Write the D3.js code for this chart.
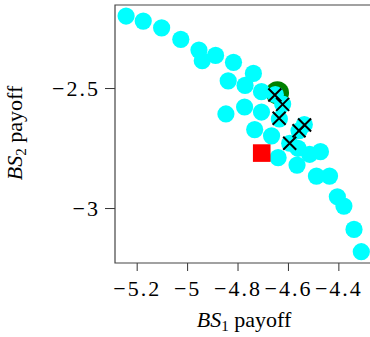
<!DOCTYPE html>
<html>
<head>
<meta charset="utf-8">
<script src="https://cdn.jsdelivr.net/npm/d3@7"></script>
<style>
  body { margin: 0; background: #fff; }
  svg { display: block; }
</style>
</head>
<body>
<svg id="chart" width="370" height="337"></svg>
<script>
// all solutions found
var solX = [-5.242, -5.174, -5.101, -5.025, -4.953, -4.940, -4.887, -4.816, -4.737, -4.837,
            -4.770, -4.705, -4.650, -4.621, -4.846, -4.772, -4.705, -4.634, -4.535, -4.732,
            -4.665, -4.556, -4.593, -4.560, -4.514, -4.471, -4.639, -4.564, -4.487, -4.435,
            -4.404, -4.378, -4.338, -4.309];
var solY = [-2.200, -2.221, -2.249, -2.297, -2.342, -2.386, -2.364, -2.393, -2.439, -2.470,
            -2.489, -2.515, -2.527, -2.567, -2.608, -2.579, -2.600, -2.629, -2.652, -2.673,
            -2.699, -2.678, -2.730, -2.751, -2.776, -2.765, -2.790, -2.821, -2.867, -2.867,
            -2.953, -2.992, -3.089, -3.182];
// pareto points
var parX = [-4.652, -4.621, -4.635, -4.534, -4.556, -4.593];
var parY = [-2.529, -2.568, -2.626, -2.654, -2.678, -2.730];
// chosen point and baseline
var bestPt = [-4.642, -2.520];
var basePt = [-4.704, -2.771];

var xTicks = [-5.2, -5, -4.8, -4.6, -4.4];
var yTicks = [-2.5, -3];

var serif = "Liberation Serif";
var svg = d3.select("#chart");
var x = d3.scaleLinear().domain([-5.286, -4.2745]).range([115, 370]);
var y = d3.scaleLinear().domain([-3.229, -2.154]).range([263, 5]);
var fmt = d3.format("~g");

function styleTicks(g) {
    g.attr("font-family", serif).attr("font-size", 22);
    g.select(".domain").remove();
    g.selectAll(".tick line").attr("stroke", "#333");
    g.selectAll(".tick text")
        .attr("font-family", serif)
        .attr("letter-spacing", 2)
        .attr("fill", "#000");
}

var gx = svg.append("g")
    .attr("transform", "translate(0,263)")
    .call(d3.axisBottom(x).tickValues(xTicks).tickSize(8).tickPadding(5).tickFormat(fmt))
    .call(styleTicks);
gx.selectAll(".tick text").attr("dy", "0.92em");

var gy = svg.append("g")
    .attr("transform", "translate(115,0)")
    .call(d3.axisLeft(y).tickValues(yTicks).tickSize(10).tickPadding(5).tickFormat(fmt))
    .call(styleTicks);

// frame (right side runs off the picture)
svg.append("path")
    .attr("d", "M375,5H115V263H375")
    .attr("fill", "none")
    .attr("stroke", "#444")
    .attr("stroke-width", 1.2);

var plot = svg.append("g");

plot.append("circle")
    .attr("cx", x(bestPt[0])).attr("cy", y(bestPt[1]))
    .attr("r", 11.7)
    .attr("fill", "green");

plot.selectAll(".sol")
    .data(solX)
    .enter().append("circle")
    .attr("class", "sol")
    .attr("cx", function (d) { return x(d); })
    .attr("cy", function (d, i) { return y(solY[i]); })
    .attr("r", 8.6)
    .attr("fill", "cyan");

plot.selectAll(".par")
    .data(parX)
    .enter().append("path")
    .attr("class", "par")
    .attr("d", function (d, i) {
        var cx = x(d), cy = y(parY[i]), s = 6.5;
        return "M" + (cx - s) + "," + (cy - s) + "L" + (cx + s) + "," + (cy + s) +
               "M" + (cx - s) + "," + (cy + s) + "L" + (cx + s) + "," + (cy - s);
    })
    .attr("stroke", "#000")
    .attr("stroke-width", 2);

plot.append("rect")
    .attr("x", x(basePt[0]) - 8.8).attr("y", y(basePt[1]) - 8.8)
    .attr("width", 17.6).attr("height", 17.6)
    .attr("fill", "red");

// axis labels
function axisLabel(sel, sub) {
    sel.attr("font-family", serif)
        .attr("font-size", 22)
        .attr("fill", "#000")
        .attr("text-anchor", "middle");
    sel.append("tspan").attr("font-style", "italic").text("BS");
    sel.append("tspan").attr("font-size", 15).attr("dy", 4).text(sub);
    sel.append("tspan").attr("dy", -4).text(" payoff");
}

svg.append("text")
    .attr("x", 244).attr("y", 327)
    .call(axisLabel, "1");

svg.append("text")
    .attr("transform", "translate(22,133) rotate(-90)")
    .call(axisLabel, "2");
</script>
</body>
</html>
